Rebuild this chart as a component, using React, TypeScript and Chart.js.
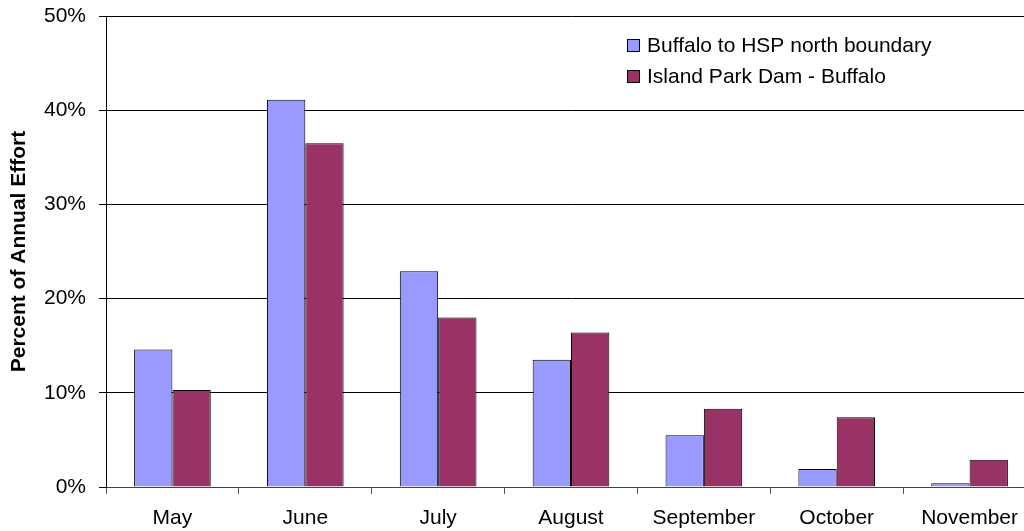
import React, { useEffect, useRef } from "react";
import { Chart, registerables } from "chart.js";

Chart.register(...registerables);

const months = ["May", "June", "July", "August", "September", "October", "November"];
const buffaloToHSP = [14.6, 41.1, 22.9, 13.5, 5.5, 1.9, 0.4];
const islandParkToBuffalo = [10.3, 36.5, 18.0, 16.4, 8.3, 7.4, 2.9];
const seriesNames = ["Buffalo to HSP north boundary", "Island Park Dam - Buffalo"];
const seriesColors = ["#9999FF", "#993366"];
const yTitle = "Percent of Annual Effort";

const FONT = '"Liberation Sans", Arial, Helvetica, sans-serif';

const legendPlugin = {
  id: "customLegend",
  afterDraw(chart: any) {
    const ctx = chart.ctx;
    ctx.save();
    const x0 = 627;
    const rows = [39, 70];
    chart.data.datasets.forEach((ds: any, i: number) => {
      const y = rows[i];
      ctx.fillStyle = ds.backgroundColor;
      ctx.fillRect(x0, y, 12, 12);
      ctx.strokeStyle = "#000";
      ctx.lineWidth = 1;
      ctx.strokeRect(x0 + 0.5, y + 0.5, 12, 12);
      ctx.fillStyle = "#000";
      ctx.font = `21px ${FONT}`;
      ctx.textBaseline = "alphabetic";
      ctx.textAlign = "left";
      ctx.fillText(ds.label, 647, y + 13);
    });
    ctx.restore();
  },
};

export default function App() {
  const ref = useRef<HTMLCanvasElement | null>(null);
  useEffect(() => {
    if (!ref.current) return;
    const chart = new Chart(ref.current, {
      type: "bar",
      data: {
        labels: months,
        datasets: [
          {
            label: seriesNames[0],
            data: buffaloToHSP,
            backgroundColor: seriesColors[0],
            borderColor: "#000",
            borderWidth: 1,
            categoryPercentage: 0.577,
            barPercentage: 1,
          },
          {
            label: seriesNames[1],
            data: islandParkToBuffalo,
            backgroundColor: seriesColors[1],
            borderColor: "#000",
            borderWidth: 1,
            categoryPercentage: 0.577,
            barPercentage: 1,
          },
        ],
      },
      options: {
        responsive: false,
        animation: false,
        devicePixelRatio: 1,
        layout: { padding: { top: 16, left: 0, right: 0, bottom: 0 } },
        plugins: {
          legend: { display: false },
          tooltip: { enabled: false },
        },
        scales: {
          x: {
            offset: true,
            grid: {
              offset: true,
              drawOnChartArea: false,
              drawTicks: true,
              tickLength: 7,
              color: "#555",
            },
            border: { display: true, color: "#444", width: 1 },
            ticks: {
              color: "#000",
              font: { family: FONT, size: 21 },
              padding: 12,
              maxRotation: 0,
              autoSkip: false,
            },
            afterFit(scale: any) {
              scale.height = 44;
              scale.paddingLeft = 0;
              scale.paddingRight = 0;
            },
          },
          y: {
            min: 0,
            max: 50,
            ticks: {
              stepSize: 10,
              color: "#000",
              font: { family: FONT, size: 21 },
              padding: 13,
              callback: (v: any) => `${v}%`,
            },
            grid: {
              color: "#000",
              lineWidth: 1,
              tickLength: 7,
              drawTicks: true,
            },
            border: { display: true, color: "#000", width: 1 },
            title: {
              display: true,
              text: yTitle,
              color: "#000",
              font: { family: FONT, size: 21, weight: "bold", lineHeight: 1 },
              padding: { top: 9, bottom: 0 },
            },
            afterFit(scale: any) {
              scale.width = 106;
              scale.paddingTop = 0;
              scale.paddingBottom = 0;
            },
          },
        },
      },
      plugins: [legendPlugin],
    });
    return () => chart.destroy();
  }, []);

  return (
    <div
      style={{
        position: "fixed",
        left: 0,
        top: 0,
        width: 1024,
        height: 531,
        overflow: "hidden",
        background: "#fff",
      }}
    >
      <canvas ref={ref} width={1036} height={531} style={{ display: "block" }} />
    </div>
  );
}
